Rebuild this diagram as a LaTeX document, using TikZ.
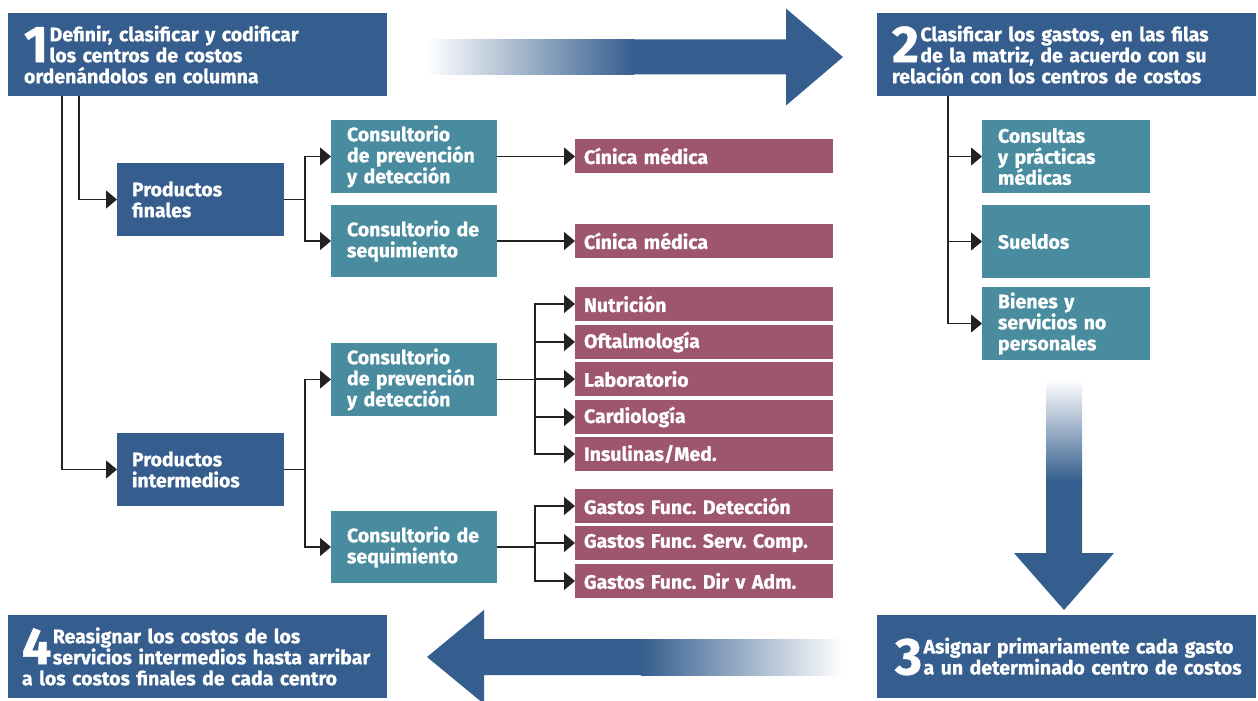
\documentclass[tikz,border=0pt]{standalone}
\usepackage{fontspec}
\newfontfamily\bt{Fira Sans}[BoldFeatures={FakeBold=0.8}]
\usetikzlibrary{arrows.meta}
\definecolor{cblue}{RGB}{53,94,142}
\definecolor{cteal}{RGB}{74,140,159}
\definecolor{cpink}{RGB}{158,85,110}
\definecolor{cline}{RGB}{34,34,34}
\newcommand\boxfnt{\bt\bfseries\fontsize{19.5}{21}\selectfont\frenchspacing}
\newcommand\bignum[1]{{\fontsize{52}{52}\selectfont #1}\hspace{1.5pt}}
\begin{document}
\begin{tikzpicture}[x=1pt,y=-1pt,
  blk/.style={anchor=north west, inner ysep=0pt, outer sep=0pt, text=white, font=\boxfnt, align=left},
  bluebox/.style={blk, fill=cblue},
  tealbox/.style={blk, fill=cteal},
  pinkbox/.style={blk, fill=cpink, minimum width=258pt, minimum height=34pt, inner xsep=9pt, text width=240pt},
  bigbox/.style={bluebox, minimum width=379pt, minimum height=83pt, inner xsep=16pt, text width=347pt},
  midbox/.style={minimum width=167pt, minimum height=73pt, inner xsep=15pt, text width=137pt},
  conbox/.style={tealbox, minimum width=166pt, inner xsep=16pt, text width=134pt},
  conn/.style={draw=cline, line width=1.3pt, -{Triangle[length=11pt,width=18pt]}},
]
\useasboundingbox (0,0) rectangle (1258,701);

% big step boxes
\node[bigbox] (b1) at (8,13) {\bignum{1}\parbox[b]{320pt}{Definir, clasificar y codificar\\los centros de costos}\\ordenándolos en columna};
\node[bigbox, inner xsep=15pt, text width=349pt] (b2) at (877,13) {\bignum{2}\parbox[b]{320pt}{Clasificar los gastos, en las filas\\de la matriz, de acuerdo con su}\\relación con los centros de costos};
\node[bigbox, inner xsep=18pt, text width=343pt] (b3) at (877,615) {\bignum{3}\parbox[b]{320pt}{Asignar primariamente cada gasto\\a un determinado centro de costos}};
\node[bigbox, inner xsep=14pt, text width=351pt] (b4) at (8,615) {\bignum{4}\parbox[b]{320pt}{Reasignar los costos de los\\servicios intermedios hasta arribar}\\a los costos finales de cada centro};

% products
\node[bluebox, midbox] (pfin) at (117,163) {Productos\\finales};
\node[bluebox, midbox] (pint) at (117,433) {Productos\\intermedios};

% consultorios
\node[conbox, minimum height=73pt] (cprev1) at (331,120) {Consultorio\\de prevención\\y detección};
\node[conbox, minimum height=72pt] (cseg1) at (331,205) {Consultorio de\\sequimiento};
\node[conbox, minimum height=73pt] (cprev2) at (331,343) {Consultorio\\de prevención\\y detección};
\node[conbox, minimum height=72pt] (cseg2) at (331,511) {Consultorio de\\sequimiento};

% pink boxes
\node[pinkbox] (clin1) at (575,139) {Cínica médica};
\node[pinkbox] (clin2) at (575,224) {Cínica médica};
\node[pinkbox] (nut) at (575,287) {Nutrición};
\node[pinkbox] (oft) at (575,325) {Oftalmología};
\node[pinkbox] (lab) at (575,362) {Laboratorio};
\node[pinkbox] (car) at (575,400) {Cardiología};
\node[pinkbox] (ins) at (575,437) {Insulinas/Med.};
\node[pinkbox] (g1) at (575,489) {Gastos Func. Detección};
\node[pinkbox] (g2) at (575,526) {Gastos Func. Serv. Comp.};
\node[pinkbox] (g3) at (575,564) {Gastos Func. Dir v Adm.};

% right teal boxes
\node[tealbox, minimum width=168pt, minimum height=73pt, inner xsep=16pt, text width=136pt] (cons) at (982,120) {Consultas\\y prácticas\\médicas};
\node[tealbox, minimum width=168pt, minimum height=73pt, inner xsep=16pt, text width=136pt] (sue) at (982,205) {Sueldos};
\node[tealbox, minimum width=168pt, minimum height=73pt, inner xsep=16pt, text width=136pt] (bie) at (982,287) {Bienes y\\servicios no\\personales};

% connectors
\draw[conn] ([xshift=71pt]b1.south west) |- (pfin.west);
\draw[conn] ([xshift=54pt]b1.south west) |- (pint.west);
\draw[conn] (pfin.east) -- ++(21,0) |- (cprev1.west);
\draw[conn] (pfin.east) -- ++(21,0) |- (cseg1.west);
\draw[conn] (pint.east) -- ++(21,0) |- (cprev2.west);
\draw[conn] (pint.east) -- ++(21,0) |- (cseg2.west);
\draw[conn] (cprev1.east) -- (cprev1.east -| clin1.west);
\draw[conn] (cseg1.east) -- (cseg1.east -| clin2.west);
\foreach \t in {nut,oft,lab,car,ins}{
  \draw[conn] (cprev2.east) -- ++(38,0) |- (\t.west);
}
\foreach \t in {g1,g2,g3}{
  \draw[conn] (cseg2.east) -- ++(38,0) |- (\t.west);
}
\draw[conn] ([xshift=71pt]b2.south west) |- (cons.west);
\draw[conn] ([xshift=71pt]b2.south west) |- (sue.west);
\draw[conn] ([xshift=71pt]b2.south west) |- (bie.west);

% big arrows
\shade[left color=white, right color=cblue] (427,39.5) rectangle (634,74.5);
\fill[cblue] (633,39.5) -- (786,39.5) -- (786,8.5) -- (843,57) -- (786,105.5) -- (786,74.5) -- (633,74.5) -- cycle;

\shade[top color=white, bottom color=cblue] (1046,380) rectangle (1082,481);
\fill[cblue] (1046,480) -- (1082,480) -- (1082,553) -- (1114,553) -- (1064,610) -- (1014,553) -- (1046,553) -- cycle;

\shade[left color=cblue, right color=white] (641,639) rectangle (843,675);
\fill[cblue] (642,639) -- (484,639) -- (484,610) -- (427,657) -- (484,704) -- (484,675) -- (642,675) -- cycle;
\end{tikzpicture}
\end{document}
